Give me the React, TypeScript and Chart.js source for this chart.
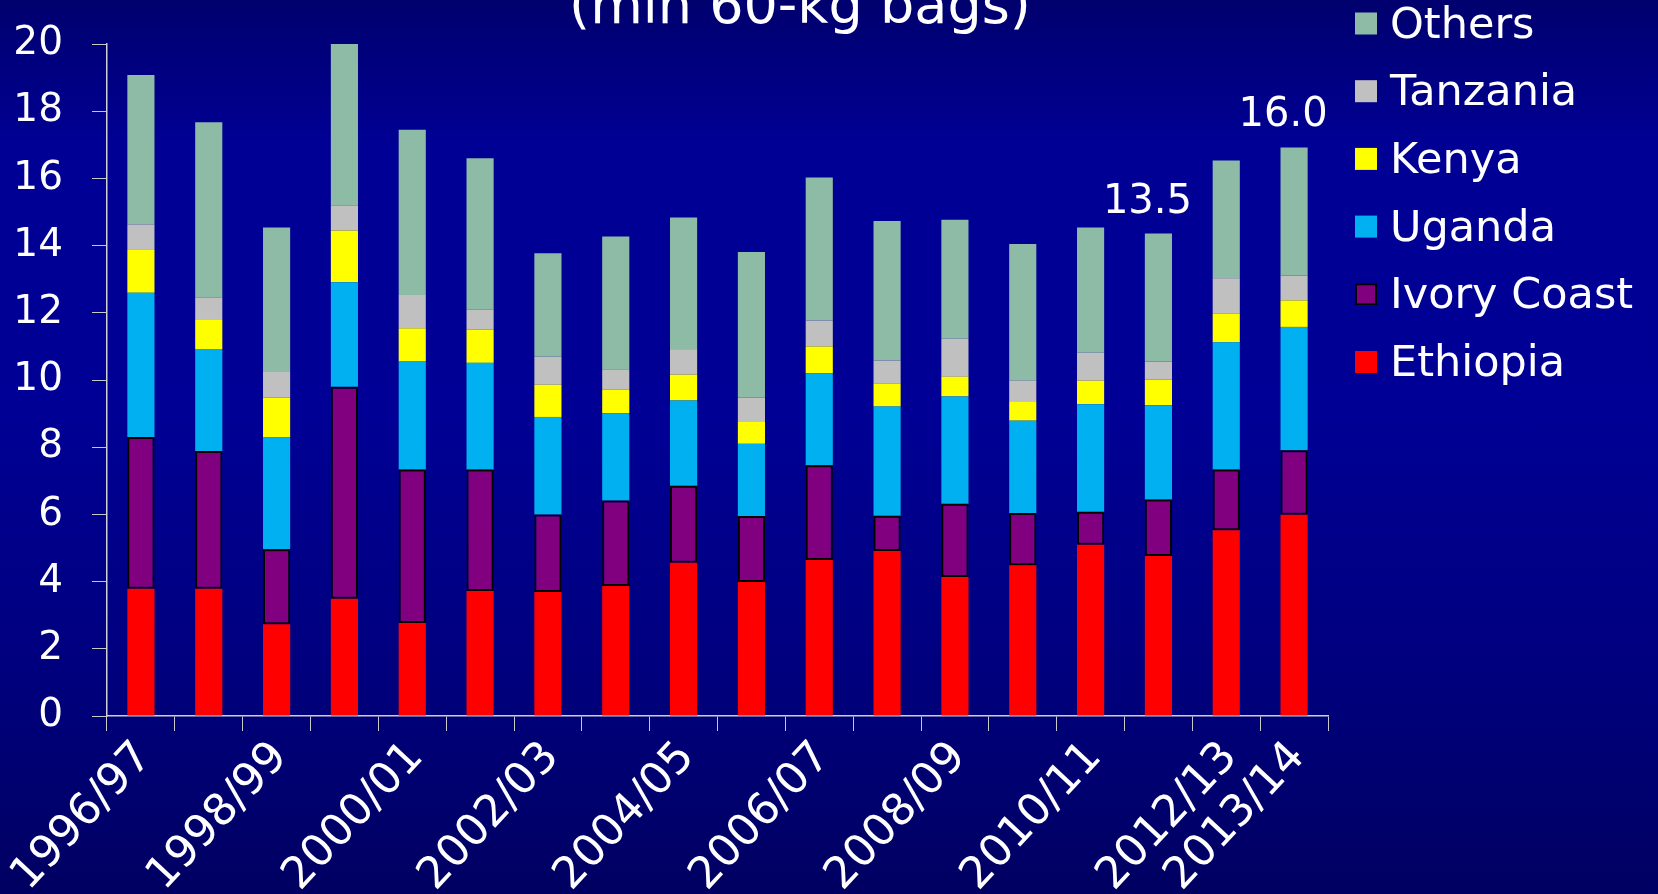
import React, { useEffect, useRef } from 'react';
import { Chart, registerables } from 'chart.js';

Chart.register(...registerables);

const categories = [
  '1996/97', '1997/98', '1998/99', '1999/00', '2000/01', '2001/02',
  '2002/03', '2003/04', '2004/05', '2005/06', '2006/07', '2007/08',
  '2008/09', '2009/10', '2010/11', '2011/12', '2012/13', '2013/14',
];

const ethiopia = [3.79, 3.79, 2.73, 3.49, 2.77, 3.72, 3.69, 3.87, 4.56, 3.99, 4.64, 4.91, 4.14, 4.49, 5.10, 4.76, 5.53, 5.99];
const ivoryCoast = [4.51, 4.10, 2.23, 6.31, 4.57, 3.62, 2.31, 2.54, 2.29, 1.96, 2.82, 1.05, 2.18, 1.55, 0.98, 1.68, 1.81, 1.92];
const uganda = [4.30, 3.03, 3.33, 3.11, 3.21, 3.17, 2.90, 2.60, 2.54, 2.15, 2.74, 3.25, 3.19, 2.75, 3.20, 2.81, 3.78, 3.67];
const kenya = [1.27, 0.89, 1.19, 1.54, 0.99, 0.99, 0.96, 0.70, 0.77, 0.65, 0.80, 0.69, 0.59, 0.58, 0.70, 0.76, 0.85, 0.79];
const tanzania = [0.76, 0.64, 0.76, 0.75, 0.99, 0.60, 0.83, 0.61, 0.76, 0.72, 0.77, 0.68, 1.13, 0.61, 0.83, 0.54, 1.06, 0.74];
const others = [4.45, 5.22, 4.30, 4.81, 4.92, 4.50, 3.08, 3.95, 3.92, 4.34, 4.26, 4.15, 3.54, 4.07, 3.73, 3.81, 3.50, 3.81];

const seriesNames = ['Ethiopia', 'Ivory Coast', 'Uganda', 'Kenya', 'Tanzania', 'Others'];
const seriesColors = ['#FF0000', '#800080', '#00B0F0', '#FFFF00', '#C0C0C0', '#8DBBA6'];
const seriesValues = [ethiopia, ivoryCoast, uganda, kenya, tanzania, others];

const yMin = 0;
const yMax = 20;
const yStep = 2;

const shownTickLabels = ['1996/97', '1998/99', '2000/01', '2002/03', '2004/05', '2006/07', '2008/09', '2010/11', '2012/13', '2013/14'];

const calloutCategories = ['2011/12', '2013/14'];
const calloutTexts = ['13.5', '16.0'];

const titleText = '(mln 60-kg bags)';

const FONT = '"DejaVu Sans", Verdana, sans-serif';

export default function App() {
  const canvasRef = useRef<HTMLCanvasElement>(null);

  useEffect(() => {
    const canvas = canvasRef.current;
    if (!canvas) return;

    const titlePlugin = {
      id: 'titleText',
      afterDraw(chart: any) {
        const ctx = chart.ctx;
        ctx.save();
        ctx.font = `54px ${FONT}`;
        ctx.fillStyle = '#FFFFFF';
        ctx.textAlign = 'center';
        ctx.textBaseline = 'alphabetic';
        ctx.fillText(titleText, 800, 23);
        ctx.restore();
      },
    };

    const calloutPlugin = {
      id: 'callouts',
      afterDatasetsDraw(chart: any) {
        const ctx = chart.ctx;
        const meta = chart.getDatasetMeta(chart.data.datasets.length - 1);
        ctx.save();
        ctx.font = `40px ${FONT}`;
        ctx.fillStyle = '#FFFFFF';
        ctx.textAlign = 'center';
        ctx.textBaseline = 'alphabetic';
        calloutCategories.forEach((cat, i) => {
          const idx = categories.indexOf(cat);
          const el = meta.data[idx];
          if (el) ctx.fillText(calloutTexts[i], el.x - 11, el.y - 21);
        });
        ctx.restore();
      },
    };

    const legendPlugin = {
      id: 'sideLegend',
      afterDraw(chart: any) {
        const ctx = chart.ctx;
        const ds = chart.data.datasets;
        const x0 = chart.chartArea.right + 27;
        const box = 22;
        const spacing = 67.7;
        const firstY = 23.5;
        ctx.save();
        ctx.font = `43px ${FONT}`;
        ctx.textAlign = 'left';
        ctx.textBaseline = 'middle';
        for (let k = 0; k < ds.length; k++) {
          const d = ds[ds.length - 1 - k];
          const cy = firstY + k * spacing;
          ctx.fillStyle = d.backgroundColor;
          ctx.fillRect(x0, cy - box / 2, box, box);
          if (d.borderWidth) {
            ctx.strokeStyle = d.borderColor;
            ctx.lineWidth = 2;
            ctx.strokeRect(x0 + 1, cy - box / 2 + 1, box - 2, box - 2);
          }
          ctx.fillStyle = '#FFFFFF';
          ctx.fillText(d.label, x0 + 35, cy + 3);
        }
        ctx.restore();
      },
    };

    const chart = new Chart(canvas, {
      type: 'bar',
      data: {
        labels: categories,
        datasets: seriesNames.map((name, i) => ({
          label: name,
          data: seriesValues[i],
          backgroundColor: seriesColors[i],
          borderColor: name === 'Ivory Coast' ? '#000000' : seriesColors[i],
          borderWidth: name === 'Ivory Coast' ? 2 : 0,
          borderSkipped: false,
          categoryPercentage: 1,
          barPercentage: 0.4,
        })),
      },
      options: {
        responsive: false,
        animation: false,
        devicePixelRatio: 1,
        layout: { padding: { top: 44, right: 330, bottom: 0, left: 0 } },
        plugins: {
          legend: { display: false },
          tooltip: { enabled: false },
          title: { display: false },
        },
        scales: {
          x: {
            stacked: true,
            grid: {
              offset: true,
              drawOnChartArea: false,
              drawTicks: true,
              tickLength: 15,
              color: '#C8C8C8',
              lineWidth: 1,
            },
            border: { color: '#D0D0D0', width: 1.5 },
            ticks: {
              autoSkip: false,
              maxRotation: 47,
              minRotation: 47,
              color: '#FFFFFF',
              padding: 1,
              labelOffset: 4,
              font: { family: FONT, size: 44 },
              callback: (_v: any, i: number) =>
                shownTickLabels.includes(categories[i]) ? categories[i] : '',
            },
            afterFit: (s: any) => {
              s.height = 178;
              s.paddingLeft = 0;
              s.paddingRight = 0;
            },
          },
          y: {
            stacked: true,
            min: yMin,
            max: yMax,
            grid: {
              drawOnChartArea: false,
              drawTicks: true,
              tickLength: 15,
              color: '#C8C8C8',
            },
            border: { color: '#D0D0D0', width: 1.5 },
            ticks: {
              stepSize: yStep,
              color: '#FFFFFF',
              padding: 29,
              font: { family: FONT, size: 39 },
            },
            afterFit: (s: any) => {
              s.width = 107;
              s.paddingTop = 0;
              s.paddingBottom = 0;
            },
          },
        },
      },
      plugins: [titlePlugin, calloutPlugin, legendPlugin],
    });

    return () => chart.destroy();
  }, []);

  return (
    <div
      style={{
        position: 'fixed',
        left: 0,
        top: 0,
        width: 1658,
        height: 894,
        overflow: 'hidden',
        background:
          'linear-gradient(to bottom, #00006E 0%, #000094 16%, #000096 45%, #00007E 75%, #000062 100%)',
      }}
    >
      <canvas
        ref={canvasRef}
        width={1658}
        height={894}
        style={{ display: 'block', width: 1658, height: 894 }}
      />
    </div>
  );
}
